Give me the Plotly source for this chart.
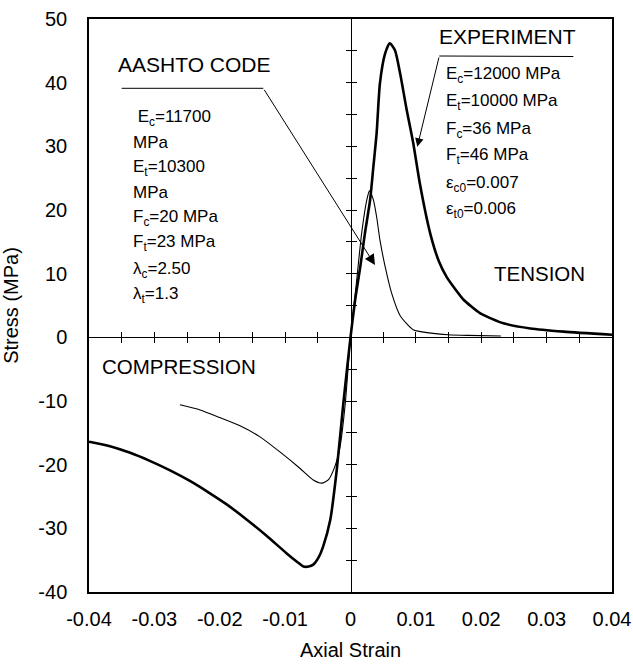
import plotly.graph_objects as go

# ---------------- data ----------------
exp_strain = [-0.0400, -0.0368, -0.0338, -0.0307, -0.0276, -0.0245, -0.0215, -0.0190, -0.0159,
              -0.0128, -0.0098, -0.0080, -0.0072, -0.0064, -0.0057, -0.0049, -0.0042, -0.0031,
              -0.0021, -0.0011, 0.0, 0.0007, 0.0015, 0.0022, 0.0030, 0.0035, 0.0040, 0.0045,
              0.0053, 0.0060, 0.0068, 0.0076, 0.0086, 0.0096, 0.0106, 0.0122, 0.0135, 0.0147,
              0.0160, 0.0173, 0.0198, 0.0234, 0.0275, 0.0326, 0.0400]
exp_stress = [-16.4, -17.1, -18.1, -19.4, -20.9, -22.6, -24.5, -26.2, -28.6,
              -31.2, -33.9, -35.4, -36.0, -36.0, -35.7, -34.6, -32.9, -28.7,
              -20.8, -10.4, 0.0, 5.8, 11.1, 16.3, 21.6, 26.8, 32.1, 39.9,
              44.6, 46.2, 45.1, 41.4, 35.7, 30.5, 24.2, 16.3, 12.0, 9.5,
              7.6, 5.9, 3.8, 2.2, 1.4, 0.9, 0.4]

code_strain = [-0.0261, -0.0230, -0.0200, -0.0169, -0.0139, -0.0108, -0.0077, -0.0057, -0.0044,
               -0.0034, -0.0024, -0.0016, -0.0008, 0.0, 0.0009, 0.0017, 0.0025, 0.0029, 0.0035,
               0.0040, 0.0045, 0.0053, 0.0063, 0.0076, 0.0096, 0.0120, 0.0150, 0.0180, 0.0230]
code_stress = [-10.6, -11.4, -12.6, -13.9, -15.6, -18.0, -20.6, -22.4, -22.9,
               -22.4, -20.3, -17.2, -10.4, 0.0, 8.5, 16.3, 21.6, 23.0, 21.6,
               18.9, 15.3, 11.1, 6.9, 3.4, 1.2, 0.7, 0.4, 0.3, 0.2]

x_ticks = [-0.04, -0.03, -0.02, -0.01, 0.0, 0.01, 0.02, 0.03, 0.04]
x_ticktext = ["-0.04", "-0.03", "-0.02", "-0.01", "0", "0.01", "0.02", "0.03", "0.04"]
y_ticks = [-40, -30, -20, -10, 0, 10, 20, 30, 40, 50]
y_ticktext = ["-40", "-30", "-20", "-10", "0", "10", "20", "30", "40", "50"]
# tick marks drawn on the zero (cross) axes
x_zero_ticks = [-0.035, -0.03, -0.025, -0.02, -0.015, -0.01, -0.005, 0.005,
                0.01, 0.015, 0.02, 0.025, 0.03, 0.035]
y_zero_ticks = [-35, -30, -25, -20, -15, -10, -5, 5, 10, 15, 20, 25, 30, 35, 40, 45]

exp_params = ["E<sub>c</sub>=12000 MPa", "E<sub>t</sub>=10000 MPa", "F<sub>c</sub>=36 MPa",
              "F<sub>t</sub>=46 MPa", "ε<sub>c0</sub>=0.007", "ε<sub>t0</sub>=0.006"]
code_params = [" E<sub>c</sub>=11700", "MPa", "E<sub>t</sub>=10300", "MPa", "F<sub>c</sub>=20 MPa",
               "F<sub>t</sub>=23 MPa", "λ<sub>c</sub>=2.50", "λ<sub>t</sub>=1.3"]

# ---------------- layout helpers ----------------
X0, X1 = -0.04, 0.04
Y0, Y1 = -40, 50
FONT = "Arial, Liberation Sans, sans-serif"
L, R, T, B = 89, 21, 19, 77
W, H = 633, 669
pw, ph = W - L - R, H - T - B


def px2x(px):
    return X0 + (px - L) / pw * (X1 - X0)


def py2y(py):
    return Y1 - (py - T) / ph * (Y1 - Y0)


fig = go.Figure()
fig.add_trace(go.Scatter(x=code_strain, y=code_stress, mode="lines",
                         line=dict(color="black", width=1.1, shape="spline", smoothing=0.6),
                         hoverinfo="skip", showlegend=False))
fig.add_trace(go.Scatter(x=exp_strain, y=exp_stress, mode="lines",
                         line=dict(color="black", width=2.6, shape="spline", smoothing=0.6),
                         hoverinfo="skip", showlegend=False))
# helper empty traces so the zero-line tick axes get drawn
for xa, ya in [("x2", "y"), ("x3", "y"), ("x", "y2"), ("x", "y3")]:
    fig.add_trace(go.Scatter(x=[], y=[], xaxis=xa, yaxis=ya, showlegend=False, hoverinfo="skip"))

ann = []
# headers
ann.append(dict(x=px2x(507), y=py2y(36), text="EXPERIMENT", font=dict(size=21)))
ann.append(dict(x=px2x(194), y=py2y(64.5), text="AASHTO CODE", font=dict(size=21)))
ann.append(dict(x=px2x(539), y=py2y(273.5), text="TENSION", font=dict(size=20.5)))
ann.append(dict(x=px2x(179), y=py2y(366.7), text="COMPRESSION", font=dict(size=20.5)))

exp_y = [73.3, 100, 127.7, 154, 181.7, 208.3]
for t, yy in zip(exp_params, exp_y):
    ann.append(dict(x=px2x(444), y=py2y(yy + 2), text=t, xanchor="left", font=dict(size=17)))
code_y = [116.2, 140, 166.2, 190, 215.8, 240.8, 268.3, 292.7]
for t, yy in zip(code_params, code_y):
    ann.append(dict(x=px2x(131), y=py2y(yy + 2), text=t, xanchor="left", font=dict(size=17)))

for a in ann:
    a.update(xref="x", yref="y", showarrow=False, yanchor=a.get("yanchor", "middle"))
    a.setdefault("xanchor", "center")
    a["font"].update(family=FONT, color="black")

# arrows
ann.append(dict(x=px2x(375), y=py2y(265), ax=px2x(263.3), ay=py2y(88.3), xref="x", yref="y",
                axref="x", ayref="y", text="", showarrow=True, arrowhead=2, arrowsize=2.1,
                arrowwidth=1, arrowcolor="black"))
ann.append(dict(x=px2x(417.3), y=py2y(146.7), ax=px2x(439.3), ay=py2y(56), xref="x", yref="y",
                axref="x", ayref="y", text="", showarrow=True, arrowhead=2, arrowsize=1.7,
                arrowwidth=1, arrowcolor="black"))

shapes = [
    dict(type="line", xref="x", yref="y", x0=px2x(121.7), y0=py2y(88.3), x1=px2x(263.3), y1=py2y(88.3),
         line=dict(color="black", width=1)),
    dict(type="line", xref="x", yref="y", x0=px2x(439.3), y0=py2y(56), x1=px2x(573.3), y1=py2y(56.5),
         line=dict(color="black", width=1)),
]

tickfont = dict(family=FONT, size=20, color="black")
xpos0 = (0 - Y0) / (Y1 - Y0)
ypos0 = (0 - X0) / (X1 - X0)

common_free = dict(showticklabels=False, showgrid=False, zeroline=False, automargin=False,
                   tickwidth=1.2, ticklen=5, tickcolor="black", tickmode="array")

fig.update_layout(
    width=W, height=H,
    margin=dict(l=L, r=R, t=T, b=B, autoexpand=False),
    paper_bgcolor="white", plot_bgcolor="white",
    showlegend=False,
    annotations=ann, shapes=shapes,
    xaxis=dict(range=[X0, X1], tickvals=x_ticks, ticktext=x_ticktext, tickfont=tickfont,
               showgrid=False, zeroline=False, showline=True, linecolor="black", linewidth=1.5,
               mirror=True, ticks="", ticklabelstandoff=8, automargin=False,
               title=dict(text="Axial Strain", font=dict(family=FONT, size=20, color="black"), standoff=14)),
    yaxis=dict(range=[Y0, Y1], tickvals=y_ticks, ticktext=y_ticktext, tickfont=tickfont,
               showgrid=False, zeroline=False, showline=True, linecolor="black", linewidth=1.5,
               mirror=True, ticks="", ticklabelstandoff=16, automargin=False,
               title=dict(text="Stress (MPa)", font=dict(family=FONT, size=20, color="black"), standoff=14)),
    xaxis2=dict(range=[X0, X1], overlaying="x", anchor="free", position=xpos0, tickvals=x_zero_ticks,
                ticks="outside", showline=True, linecolor="black", linewidth=1, **common_free),
    xaxis3=dict(range=[X0, X1], overlaying="x", anchor="free", position=xpos0, tickvals=x_zero_ticks,
                ticks="inside", showline=False, **common_free),
    yaxis2=dict(range=[Y0, Y1], overlaying="y", anchor="free", position=ypos0, tickvals=y_zero_ticks,
                ticks="outside", showline=True, linecolor="black", linewidth=1, **common_free),
    yaxis3=dict(range=[Y0, Y1], overlaying="y", anchor="free", position=ypos0, tickvals=y_zero_ticks,
                ticks="inside", showline=False, **common_free),
)

fig.write_html("out.html")
